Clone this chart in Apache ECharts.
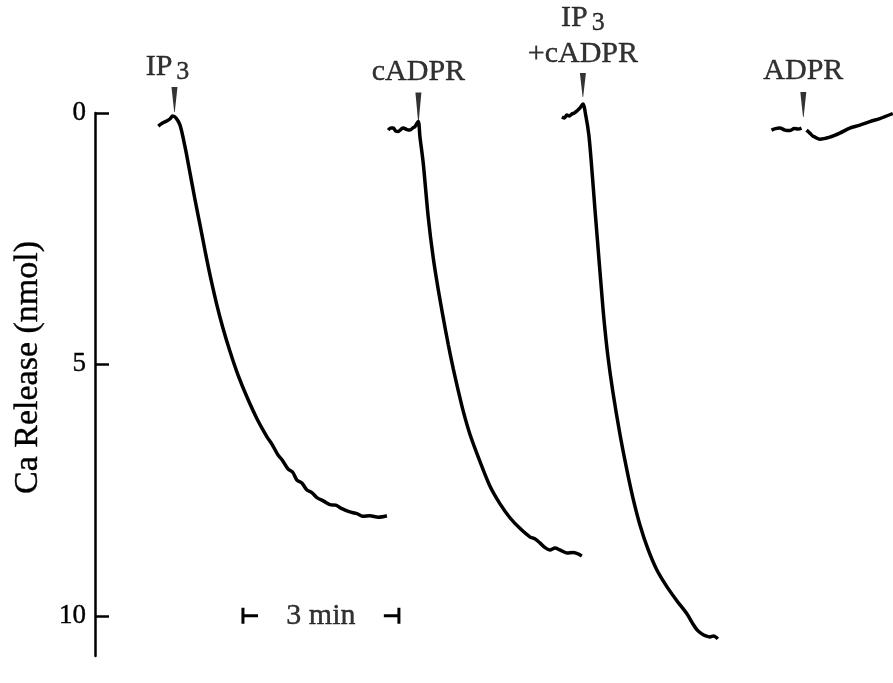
<!DOCTYPE html>
<html><head><meta charset="utf-8">
<script src="https://cdn.jsdelivr.net/npm/echarts@6/dist/echarts.min.js"></script>
<style>html,body{margin:0;padding:0;background:#fff}#c{width:893px;height:683px}</style>
</head><body><div id="c"></div>
<script>
// y ticks (nmol)
const yTicks = [0, 5, 10];

// Trace 1: IP3 (time in min, Ca release in nmol)
const ip3Time = [1.217,1.30,1.379,1.44,1.494,1.56,1.635,1.731,1.827,1.923,2.019,2.115,2.212,2.340,2.462,2.596,2.750,2.923,3.115,3.308,3.40,3.519,3.60,3.712,3.80,3.885,3.98,4.077,4.17,4.269,4.40,4.519,4.63,4.750,4.89,5.038,5.15,5.288,5.45,5.615];
const ip3Ca   = [0.26,0.20,0.16,0.12,0.06,0.10,0.24,0.67,1.19,1.72,2.22,2.73,3.22,3.80,4.28,4.74,5.21,5.65,6.08,6.44,6.58,6.80,6.90,7.08,7.14,7.30,7.36,7.50,7.55,7.65,7.72,7.79,7.80,7.87,7.93,7.97,8.02,8.01,8.04,8.01];

// Trace 2: cADPR
const cadprTime = [5.640,5.690,5.737,5.785,5.833,5.880,5.929,6.000,6.058,6.110,6.154,6.217,6.250,6.313,6.410,6.506,6.602,6.698,6.794,6.890,6.987,7.083,7.212,7.404,7.596,7.788,7.981,8.173,8.365,8.46,8.558,8.65,8.750,8.85,8.942,9.077,9.20,9.365];
const cadprCa   = [0.34,0.30,0.30,0.36,0.37,0.33,0.30,0.33,0.34,0.30,0.27,0.17,0.47,0.99,2.07,2.88,3.51,4.07,4.60,5.08,5.52,5.93,6.39,6.93,7.42,7.77,8.05,8.26,8.43,8.47,8.55,8.64,8.69,8.65,8.69,8.75,8.74,8.81];

// Trace 3: IP3 + cADPR
const bothTime = [8.981,9.03,9.077,9.125,9.173,9.221,9.269,9.33,9.385,9.442,9.500,9.558,9.615,9.673,9.731,9.788,9.865,9.962,10.096,10.231,10.346,10.481,10.635,10.808,11.000,11.192,11.385,11.500,11.58,11.673,11.75,11.827,11.90,11.981];
const bothCa   = [0.08,0.10,0.04,0.06,0.02,0.00,-0.04,-0.10,-0.18,0.06,0.44,1.13,1.89,2.64,3.38,4.08,4.83,5.55,6.38,7.10,7.65,8.19,8.67,9.09,9.42,9.70,9.96,10.16,10.28,10.36,10.40,10.42,10.40,10.46];

// Trace 4: ADPR (null = break in the recording at the addition)
const adprTime = [13.013,13.09,13.173,13.27,13.365,13.45,13.525,13.59,13.64,13.687,13.75,13.813,13.942,14.135,14.327,14.519,14.712,14.904,15.096,15.346];
const adprCa   = [0.34,0.31,0.30,0.34,0.35,0.31,0.32,0.30,null,0.34,0.40,0.46,0.52,0.48,0.40,0.30,0.24,0.17,0.11,0.01];

// Additions (arrowheads): time and level of the arrow tip
const addNames = ['IP3', 'cADPR', 'IP3+cADPR', 'ADPR'];
const addTime  = [1.529, 6.221, 9.385, 13.625];
const addTip   = [-0.02, 0.17, -0.32, 0.08];

// Time scale bar
const barStart = 2.846, barMinutes = 3, barLevel = 10;
const barText = '3 min';

const FONT = "'Liberation Serif','Times New Roman',serif";
const pairs = (t, v) => t.map((x, i) => [x, v[i] == null ? '-' : v[i]]);

const labelText = {
  'IP3': '{n|IP}{s|3}',
  'cADPR': '{n|cADPR}',
  'IP3+cADPR': '{n|IP}{s|3}\n{n|+cADPR}',
  'ADPR': '{n|ADPR}'
};
const arrowLen = [25, 29, 24, 25];
const labelGap = [1, 2, 0, 2];
const labelDx  = [-7, 0, 0, 0];
const ink = { color: '#000', textBorderColor: '#000', textBorderWidth: 0.4 };

const traceStyle = { type: 'line', showSymbol: false, symbol: 'none', clip: false, smooth: 0.3,
  lineStyle: { color: '#000', width: 3.5 }, connectNulls: false, animation: false };

const capW = 0.29, capH = 0.16;
const series = [
  Object.assign({ data: pairs(ip3Time, ip3Ca) }, traceStyle),
  Object.assign({ data: pairs(cadprTime, cadprCa) }, traceStyle),
  Object.assign({ data: pairs(bothTime, bothCa) }, traceStyle),
  Object.assign({ data: pairs(adprTime, adprCa) }, traceStyle),
  { type: 'scatter', clip: false, animation: false, silent: true,
    data: addTime.map((t, i) => ({ value: [t, addTip[i]],
      symbolSize: [6, arrowLen[i]] })),
    symbol: 'path://M0,0 L6,0 L3.3,25 L2.7,25 Z', symbolOffset: [0, '-50%'],
    itemStyle: { color: '#000' } },
  { type: 'scatter', clip: false, animation: false, silent: true, symbolSize: 1,
    itemStyle: { color: 'rgba(0,0,0,0)' },
    data: addTime.map((t, i) => ({ value: [t, addTip[i]],
      label: { show: true, position: 'top', distance: arrowLen[i] + labelGap[i], offset: [labelDx[i], 0],
        formatter: labelText[addNames[i]], align: 'center',
        rich: { n: Object.assign({ fontFamily: FONT, fontSize: 30, lineHeight: 36 }, ink),
                s: Object.assign({ fontFamily: FONT, fontSize: 26, lineHeight: 36, padding: [10, 0, 0, 4] }, ink) } } })) },
  // scale bar end caps
  Object.assign({}, traceStyle, { smooth: false, lineStyle: { color: '#000', width: 3 },
    data: [[barStart + capW, barLevel], [barStart, barLevel], [barStart, barLevel - capH], [barStart, barLevel + capH]] }),
  Object.assign({}, traceStyle, { smooth: false, lineStyle: { color: '#000', width: 3 },
    data: [[barStart + barMinutes - capW, barLevel], [barStart + barMinutes, barLevel], [barStart + barMinutes, barLevel - capH], [barStart + barMinutes, barLevel + capH]] }),
  { type: 'scatter', clip: false, animation: false, silent: true, symbolSize: 1,
    itemStyle: { color: 'rgba(0,0,0,0)' },
    data: [{ value: [barStart + barMinutes / 2, barLevel],
      label: Object.assign({ show: true, position: 'inside', formatter: barText, fontFamily: FONT, fontSize: 30 }, ink) }] }
];

const chart = echarts.init(document.getElementById('c'), null, { renderer: 'canvas' });
chart.setOption({
  backgroundColor: '#fff',
  animation: false,
  grid: { left: 95, right: 0, top: 113, bottom: 27, containLabel: false },
  xAxis: { type: 'value', min: 0, max: 15.35, show: false },
  yAxis: {
    type: 'value', inverse: true, min: 0, max: 10.8, interval: 5,
    name: 'Ca Release (nmol)', nameLocation: 'middle', nameGap: 50,
    nameTextStyle: Object.assign({ fontFamily: FONT, fontSize: 34, padding: [0, 0, 0, 34] }, ink),
    axisLine: { show: true, lineStyle: { color: '#000', width: 2.5 } },
    axisTick: { show: true, inside: true, length: 14, lineStyle: { color: '#000', width: 2.5 }, customValues: yTicks },
    axisLabel: Object.assign({ fontFamily: FONT, fontSize: 27, margin: 9, customValues: yTicks }, ink),
    splitLine: { show: false }
  },
  series: series
});
</script>
</body></html>
